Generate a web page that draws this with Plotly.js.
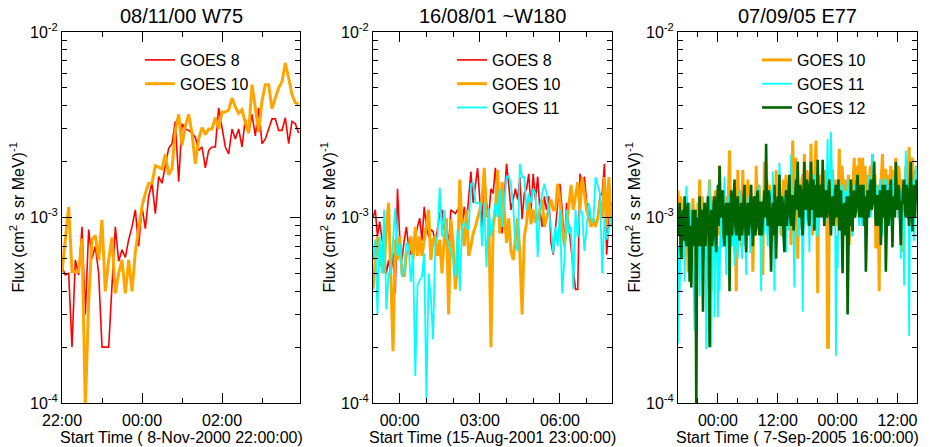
<!DOCTYPE html>
<html>
<head>
<meta charset="utf-8">
<script src="https://cdn.plot.ly/plotly-3.0.1.min.js"></script>
<style>
  html, body { margin: 0; padding: 0; background: #ffffff; }
  #chart { width: 930px; height: 447px; }
</style>
</head>
<body>
<div id="chart"></div>
<script>
// ---------------- DATA ----------------
// Panel 1: 08/11/00 W75, 5-minute cadence from 8-Nov-2000 22:00
const p1Start = [2000, 11, 8, 22, 0];
const p1StepMin = 5;
const p1_goes8 = [
  5.4e-4, 4.9e-4, 5.0e-4, 2.0e-4, 5.9e-4, 4.9e-4, 8.9e-4, 3.0e-4, 8.6e-4, 6.0e-4,
  7.0e-4, 5.0e-4, 2.0e-4, 2.0e-4, 2.0e-4, 4.3e-4, 8.9e-4, 5.8e-4, 6.7e-4, 6.1e-4,
  7.6e-4, 8.9e-4, 1.1e-3, 7.0e-4, 1.14e-3, 8.7e-4, 1.3e-3, 1.53e-3, 1.05e-3, 1.66e-3,
  1.53e-3, 1.9e-3, 2.36e-3, 2.5e-3, 3.3e-3, 1.56e-3, 3.2e-3, 3.0e-3, 2.95e-3, 2.85e-3,
  2.7e-3, 2.3e-3, 2.4e-3, 1.85e-3, 2.3e-3, 2.4e-3, 2.4e-3, 3.9e-3, 3.0e-3, 2.4e-3,
  2.2e-3, 3.0e-3, 2.65e-3, 3.0e-3, 2.4e-3, 3.4e-3, 2.85e-3, 3.6e-3, 2.75e-3, 3.9e-3,
  2.5e-3, 2.65e-3, 3.0e-3, 3.4e-3, 3.4e-3, 2.95e-3, 2.95e-3, 3.45e-3, 2.5e-3, 3.3e-3,
  3.2e-3, 2.85e-3
];
const p1_goes10 = [
  5.1e-4, 7.6e-4, 1.14e-3, 5.1e-4, 5.1e-4, 5.1e-4, 7.7e-4, 9.5e-5, 3.5e-4, 7.6e-4,
  8.0e-4, 5.9e-4, 9.7e-4, 4.0e-4, 5.9e-4, 7.8e-4, 3.9e-4, 5.0e-4, 5.9e-4, 3.9e-4,
  5.9e-4, 4.0e-4, 6.5e-4, 8.5e-4, 1.15e-3, 1.35e-3, 1.53e-3, 1.53e-3, 1.9e-3, 1.87e-3,
  1.83e-3, 2.2e-3, 1.7e-3, 1.83e-3, 2.95e-3, 3.6e-3, 2.45e-3, 3.1e-3, 3.6e-3, 2.85e-3,
  1.95e-3, 2.65e-3, 3.05e-3, 2.8e-3, 3.0e-3, 3.0e-3, 3.45e-3, 3.0e-3, 3.7e-3, 3.7e-3,
  3.8e-3, 4.4e-3, 3.95e-3, 3.65e-3, 3.8e-3, 3.25e-3, 2.85e-3, 5.2e-3, 3.8e-3, 2.9e-3,
  4.25e-3, 5.2e-3, 5.2e-3, 3.85e-3, 4.4e-3, 5.0e-3, 5.4e-3, 6.8e-3, 5.65e-3, 4.6e-3,
  4.15e-3, 4.1e-3
];

// Panel 2: 16/08/01 ~W180, 5-minute cadence from 15-Aug-2001 23:00
const p2Start = [2001, 8, 15, 23, 0];
const p2StepMin = 5;
const p2_goes8 = [
  1.0e-3, 1.1e-3, 7.9e-4, 9.5e-4, 7.7e-4, 6.6e-4, 5.0e-4, 5.9e-4, 4.9e-4, 6.4e-4,
  3.9e-4, 1.43e-3, 7.9e-4, 5.9e-4, 7.5e-4, 8.9e-4, 7.0e-4, 6.3e-4, 7.3e-4, 7.9e-4,
  8.9e-4, 9.9e-4, 7.5e-4, 1.14e-3, 8.9e-4, 7.9e-4, 8.6e-4, 8.4e-4, 7.3e-4, 8.9e-4,
  1.05e-3, 1.1e-3, 8.6e-4, 9.1e-4, 7.0e-4, 1.1e-3, 1.07e-3, 1.05e-3, 1.1e-3, 1.14e-3,
  8.9e-4, 1.14e-3, 9.3e-4, 1.32e-3, 1.77e-3, 1.2e-3, 1.5e-3, 1.85e-3, 1.25e-3, 8.9e-4,
  1.77e-3, 1.2e-3, 1.0e-3, 1.43e-3, 1.35e-3, 1.85e-3, 1.35e-3, 9.8e-4, 8.2e-4, 1.35e-3,
  1.95e-3, 1.5e-3, 1.1e-3, 1.25e-3, 1.43e-3, 1.25e-3, 1.65e-3, 9.8e-4, 1.35e-3, 1.43e-3,
  1.72e-3, 1.1e-3, 1.72e-3, 1.25e-3, 1.66e-3, 1.1e-3, 8.9e-4, 1.3e-3, 1.1e-3, 1.3e-3,
  7.3e-4, 6.3e-4, 8.9e-4, 1.2e-3, 1.52e-3, 1.1e-3, 7.0e-4, 1.2e-3, 8.9e-4, 7.0e-4,
  5.2e-4, 4.1e-4, 4.1e-4, 1.72e-3, 1.52e-3, 1.66e-3, 1.2e-3, 1.1e-3, 8.9e-4, 9.9e-4,
  8.9e-4, 1.0e-3, 1.3e-3, 1.35e-3, 1.95e-3, 6.3e-4, 9.8e-4, 1.2e-3
];
const p2_goes10 = [
  4.1e-4, 5.6e-4, 7.9e-4, 5.4e-4, 7.0e-4, 5.0e-4, 8.9e-4, 1.2e-3, 5.2e-4, 1.9e-4,
  7.6e-4, 5.9e-4, 7.9e-4, 5.0e-4, 4.8e-4, 6.4e-4, 6.6e-4, 7.9e-4, 5.9e-4, 8.9e-4,
  6.2e-4, 7.9e-4, 6.2e-4, 7.6e-4, 8.9e-4, 1.1e-3, 5.9e-4, 7.6e-4, 7.9e-4, 6.2e-4,
  7.6e-4, 5.0e-4, 7.6e-4, 9.9e-4, 3.0e-4, 9.8e-4, 7.3e-4, 4.1e-4, 5.4e-4, 1.6e-3,
  8.9e-4, 7.0e-4, 1.1e-3, 6.2e-4, 7.0e-4, 8.2e-4, 8.9e-4, 9.8e-4, 1.1e-3, 1.25e-3,
  1.85e-3, 1.0e-3, 1.1e-3, 2.0e-4, 8.9e-4, 1.1e-3, 1.8e-3, 8.2e-4, 1.55e-3, 1.1e-3,
  7.3e-4, 9.9e-4, 6.6e-4, 5.9e-4, 7.6e-4, 9.9e-4, 6.4e-4, 3.0e-4, 7.9e-4, 9.4e-4,
  1.25e-3, 9.2e-4, 1.1e-3, 9.4e-4, 9.8e-4, 1.1e-3, 1.25e-3, 8.9e-4, 1.0e-3, 1.1e-3,
  1.25e-3, 1.1e-3, 1.1e-3, 1.52e-3, 1.25e-3, 8.9e-4, 7.0e-4, 8.9e-4, 1.14e-3, 1.5e-3,
  1.1e-3, 1.35e-3, 1.55e-3, 1.1e-3, 1.65e-3, 1.35e-3, 1.1e-3, 1.0e-3, 8.9e-4, 9.9e-4,
  8.9e-4, 9.9e-4, 1.23e-3, 9.9e-4, 1.65e-3, 8.9e-4, 1.65e-3, 8.9e-4
];
const p2_goes11 = [
  5.9e-4, 7.6e-4, 3.0e-4, 7.9e-4, 5.0e-4, 1.1e-3, 3.2e-4, 5.0e-4, 5.0e-4, 7.3e-4,
  1.12e-3, 6.2e-4, 7.3e-4, 4.8e-4, 5.2e-4, 7.3e-4, 7.0e-4, 4.5e-4, 6.4e-4, 1.4e-4,
  4.3e-4, 4.6e-4, 4.8e-4, 6.4e-4, 1.04e-4, 5.0e-4, 3.7e-4, 2.2e-4, 7.3e-4, 7.9e-4,
  1.45e-3, 7.9e-4, 1.1e-3, 7.9e-4, 7.3e-4, 6.6e-4, 5.9e-4, 4.8e-4, 8.6e-4, 4.0e-4,
  8.9e-4, 9.4e-4, 8.9e-4, 8.6e-4, 1.5e-3, 1.55e-3, 1.2e-3, 1.2e-3, 1.2e-3, 7.0e-4,
  1.2e-3, 5.4e-4, 1.12e-3, 7.9e-4, 1.0e-3, 1.2e-3, 1.0e-3, 1.43e-3, 8.9e-4, 1.2e-3,
  1.65e-3, 1.68e-3, 1.5e-3, 1.14e-3, 7.3e-4, 6.6e-4, 1.95e-3, 1.65e-3, 1.65e-3, 1.1e-3,
  1.35e-3, 1.2e-3, 1.43e-3, 1.35e-3, 6.1e-4, 1.1e-3, 1.35e-3, 1.52e-3, 1.35e-3, 1.06e-3,
  8.9e-4, 6.4e-4, 8.9e-4, 7.0e-4, 1.1e-3, 3.9e-4, 5.9e-4, 1.1e-3, 8.2e-4, 8.9e-4,
  4.1e-4, 1.1e-3, 7.8e-4, 1.1e-3, 1.06e-3, 6.6e-4, 8.9e-4, 1.2e-3, 9.9e-4, 9.4e-4,
  1.65e-3, 1.5e-3, 1.35e-3, 5.0e-4, 9.8e-4, 7.6e-4, 8.9e-4, 1.0e-3
];

// Panel 3: 07/09/05 E77, 10-minute cadence from 7-Sep-2005 16:00
const p3Start = [2005, 9, 7, 16, 0];
const p3StepMin = 10;
const p3_goes10 = [
  1.4e-3,9e-4, 8.5e-4,1.3e-3, 1.2e-3,7e-4, 6e-4,1.1e-3, 1e-3,7.5e-4, 1.3e-3,9e-4, 5.1e-4,1.2e-3, 9e-4,6.5e-4, 1.1e-3,8e-4, 1.27e-3,9.5e-4,
  7e-4,1.1e-3, 9.5e-4,7e-4, 1.2e-3,8.5e-4, 1.6e-3,1e-3, 8e-4,1.3e-3, 1.1e-3,7e-4, 6.5e-4,1e-3, 1.2e-3,8e-4, 9e-4,1.3e-3, 1.6e-3,9e-4,
  4e-4,1.1e-3, 1.3e-3,8e-4, 1e-3,1.4e-3, 7.5e-4,1.1e-3, 1.4e-3,8e-4, 1.9e-3,1.1e-3, 9e-4,1.4e-3, 1.2e-3,8e-4, 7e-4,1.1e-3, 1.3e-3,9e-4,
  1e-3,1.5e-3, 2.3e-3,1.2e-3, 8.5e-4,1.3e-3, 1.2e-3,8e-4, 6.5e-4,1.1e-3, 4e-4,1e-3, 1.8e-3,1.2e-3, 1e-3,1.4e-3, 7e-4,1.2e-3, 1.8e-3,1.1e-3,
  1.1e-3,1.5e-3, 8e-4,1.2e-3, 1.6e-3,9e-4, 1.2e-3,1.5e-3, 9e-4,1.3e-3, 5.1e-4,1e-3, 1.3e-3,8e-4, 1.9e-3,1.2e-3, 1e-3,1.5e-3, 1.4e-3,9e-4,
  8e-4,1.2e-3, 4.9e-4,1.1e-3, 2e-3,1.3e-3, 1.2e-3,1.6e-3, 9e-4,1.2e-3, 1.5e-3,1e-3, 1.1e-3,1.4e-3, 7.5e-4,1.1e-3, 1.3e-3,9e-4, 1.8e-3,1.2e-3,
  1e-3,1.5e-3, 1.4e-3,1e-3, 8e-4,1.3e-3, 1.2e-3,1.6e-3, 1e-3,1.4e-3, 1.7e-3,1.1e-3, 9e-4,1.5e-3, 1.3e-3,1e-3, 7.1e-4,1.4e-3, 2.6e-3,1.6e-3,
  1.5e-3,1.2e-3, 2.1e-3,1.3e-3, 6e-4,1.2e-3, 1.5e-3,1e-3, 1.1e-3,1.6e-3, 1.7e-3,1.2e-3, 2.2e-3,1.4e-3, 1.2e-3,1.8e-3, 1.6e-3,1.1e-3, 1e-3,1.5e-3,
  2.5e-3,1.4e-3, 8e-4,1.2e-3, 1.5e-3,1.9e-3, 2.6e-3,1.3e-3, 3.9e-4,1.1e-3, 1.3e-3,1.7e-3, 1e-3,1.4e-3, 1.6e-3,1.1e-3, 1.2e-3,1.8e-3, 1.5e-3,1e-3,
  2e-4,2e-4, 1.3e-3,1e-3, 1.3e-3,1.6e-3, 1.8e-3,1.2e-3, 1.1e-3,1.6e-3, 1.5e-3,1.1e-3, 9e-4,1.4e-3, 2.35e-3,1.5e-3, 1.3e-3,1.9e-3, 1.7e-3,1.2e-3,
  1e-3,1.6e-3, 1.4e-3,1.1e-3, 1.2e-3,1.7e-3, 7.1e-4,1.3e-3, 1.6e-3,1.2e-3, 1.1e-3,1.7e-3, 2.1e-3,1.4e-3, 1.3e-3,1.9e-3, 1.8e-3,1.2e-3, 2.1e-3,1.5e-3,
  1.2e-3,1.8e-3, 2.1e-3,1.4e-3, 1.5e-3,1.9e-3, 1e-3,1.6e-3, 1.7e-3,1.2e-3, 1.3e-3,1.8e-3, 1.9e-3,1.4e-3, 2.2e-3,1.6e-3, 1.2e-3,1.7e-3, 6.8e-4,1.3e-3,
  1.5e-3,1e-3, 4e-4,1.2e-3, 1.6e-3,1.9e-3, 2.2e-3,1.4e-3, 1.3e-3,1.8e-3, 1.8e-3,1.3e-3, 1.1e-3,1.7e-3, 1.6e-3,1.2e-3, 1.9e-3,1.4e-3, 1.2e-3,1.8e-3,
  1.5e-3,1.2e-3, 2.1e-3,1.5e-3, 1.3e-3,1.9e-3, 1.8e-3,1.2e-3, 1e-3,1.6e-3, 6.5e-4,1.3e-3, 1.5e-3,1.1e-3, 1.9e-3,1.4e-3, 1.2e-3,1.8e-3, 2.4e-3,1.5e-3,
  1.6e-3,1.2e-3, 2.1e-3,1.4e-3, 1.2e-3,1.8e-3, 1.5e-3,1.9e-3
];
const p3_goes11 = [
  2.1e-4,7e-4, 4e-4,9e-4, 1.1e-3,6e-4, 8e-4,1.1e-3, 4.5e-4,9e-4, 1.48e-3,8e-4, 9e-4,6e-4, 1.2e-3,8e-4, 7e-4,1e-3, 6e-4,5e-4,
  2.45e-4,7e-4, 1e-3,6e-4, 7.5e-4,1e-3, 3.75e-4,8e-4, 1.2e-3,6.5e-4, 9e-4,1.1e-3, 6e-4,9e-4, 1.95e-4,6e-4, 1.1e-3,7e-4, 1.6e-3,9e-4,
  2e-4,7e-4, 8e-4,1.1e-3, 2.9e-4,8e-4, 1e-3,6e-4, 2.9e-4,7e-4, 4e-4,9e-4, 1.2e-3,7e-4, 7e-4,1.1e-3, 1.66e-3,8e-4, 4.9e-4,9e-4,
  1e-3,1.3e-3, 6.5e-4,1e-3, 1.3e-3,7e-4, 8e-4,1.1e-3, 5.5e-4,9e-4, 1.1e-3,7e-4, 6e-4,1e-3, 1.4e-3,8e-4, 9e-4,6e-4, 1.2e-3,8e-4,
  7e-4,1.1e-3, 4.9e-4,9e-4, 1.3e-3,8e-4, 1e-3,6.5e-4, 6.5e-4,1.1e-3, 1.2e-3,8e-4, 8e-4,1.2e-3, 1.4e-3,9e-4, 1e-3,1.3e-3, 1.5e-3,8e-4,
  4e-4,1e-3, 1.2e-3,8e-4, 9e-4,1.3e-3, 1.3e-3,9e-4, 7e-4,1.2e-3, 1.1e-3,7.5e-4, 1.4e-3,9e-4, 1.77e-3,1.1e-3, 4e-4,9e-4, 1.2e-3,7e-4,
  9e-4,1.2e-3, 1.97e-3,1.2e-3, 1.1e-3,8e-4, 8e-4,1.2e-3, 1.3e-3,9e-4, 6.5e-4,1.1e-3, 1.5e-3,8.5e-4, 1e-3,1.4e-3, 2.2e-3,1.1e-3, 1.3e-3,8e-4,
  4.2e-4,1e-3, 1.8e-3,1.1e-3, 1.2e-3,8e-4, 8e-4,1.3e-3, 1.4e-3,9e-4, 3.1e-4,8e-4, 1.1e-3,1.4e-3, 1.6e-3,1e-3, 9e-4,1.3e-3, 6.5e-4,1.1e-3,
  1.3e-3,9e-4, 1e-3,1.4e-3, 1.7e-3,1e-3, 1.2e-3,8e-4, 8e-4,1.3e-3, 1.5e-3,1e-3, 1.1e-3,1.5e-3, 1.8e-3,1.1e-3, 1.3e-3,9e-4, 1e-3,1.6e-3,
  2.65e-3,1.2e-3, 1.4e-3,1.8e-3, 2.9e-3,1.5e-3, 1.2e-3,1.6e-3, 9e-4,1.1e-3, 1.8e-4,8e-4, 5.3e-4,1.2e-3, 1.6e-3,1e-3, 1.1e-3,1.5e-3, 1.4e-3,9e-4,
  9e-4,1.4e-3, 1.3e-3,1e-3, 1.6e-3,1.1e-3, 1e-3,1.5e-3, 1.3e-3,8e-4, 8e-4,1.2e-3, 1.5e-3,1e-3, 1.1e-3,1.6e-3, 1.7e-3,1.1e-3, 9e-4,1.3e-3,
  1.3e-3,9e-4, 1e-3,1.4e-3, 1.5e-3,1.1e-3, 8.4e-4,1.3e-3, 1.2e-3,1.7e-3, 1.6e-3,1.1e-3, 1e-3,1.5e-3, 2.2e-3,1.2e-3, 1.3e-3,1.7e-3, 9e-4,1.2e-3,
  1.5e-3,1e-3, 1.1e-3,1.6e-3, 1.4e-3,1e-3, 8e-4,1.3e-3, 1.2e-3,1.6e-3, 1.6e-3,1.1e-3, 1e-3,1.5e-3, 1.4e-3,1e-3, 9e-4,1.2e-3, 1.3e-3,1.6e-3,
  1.7e-3,1.2e-3, 1.1e-3,1.5e-3, 1.4e-3,1e-3, 1e-3,1.4e-3, 6e-4,1.1e-3, 1.5e-3,9e-4, 4.3e-4,1.2e-3, 2.3e-3,1.4e-3, 1.2e-3,1.5e-3, 2.3e-4,9e-4,
  9e-4,1.3e-3, 1.6e-3,1.1e-3, 7.5e-4,1.4e-3, 1.9e-3,1.5e-3
];
const p3_goes12 = [
  8e-4,1e-3, 1.2e-3,7e-4, 6e-4,1e-3, 1.1e-3,7.5e-4, 1.3e-3,8e-4, 7e-4,1.1e-3, 1.2e-3,8e-4, 4.5e-4,9e-4, 4.2e-4,9e-4, 1.1e-3,7e-4,
  8e-4,1.1e-3, 9e-5,9e-4, 1e-3,7e-4, 1.3e-3,8e-4, 7e-4,1.1e-3, 3.1e-4,9e-4, 1.2e-3,7e-4, 9e-4,1.2e-3, 1.3e-3,8e-4, 2e-4,9e-4,
  1.1e-3,7e-4, 8e-4,1.2e-3, 1.3e-3,8e-4, 6.5e-4,1.1e-3, 1.5e-3,9e-4, 1.9e-3,1.1e-3, 1e-3,1.3e-3, 1.4e-3,8e-4, 7e-4,1.1e-3, 1.2e-3,8e-4,
  9e-4,1.2e-3, 4e-4,1e-3, 1.4e-3,8e-4, 1e-3,1.3e-3, 1.6e-3,9e-4, 8e-4,1.2e-3, 1.3e-3,8.5e-4, 7.5e-4,1.1e-3, 1.2e-3,8e-4, 9e-4,1.3e-3,
  1.5e-3,9e-4, 6.5e-4,1.1e-3, 1.2e-3,8e-4, 1e-3,1.4e-3, 1.5e-3,9e-4, 7e-4,1.2e-3, 1.3e-3,8e-4, 9e-4,1.3e-3, 1.4e-3,9e-4, 8e-4,1.2e-3,
  1.2e-3,8e-4, 1e-3,1.3e-3, 1.4e-3,1e-3, 2.5e-3,1.1e-3, 9e-4,1.4e-3, 1.3e-3,8e-4, 5.1e-4,1e-3, 1.2e-3,8e-4, 1.5e-3,1e-3, 6e-4,1.1e-3,
  1.3e-3,9e-4, 1.7e-3,1.1e-3, 9e-4,1.3e-3, 1.2e-3,8e-4, 6.5e-4,1.1e-3, 1.4e-3,9e-4, 1.1e-3,1.5e-3, 1.7e-3,1e-3, 9e-4,1.3e-3, 1.3e-3,8.5e-4,
  1e-3,1.3e-3, 1.6e-3,1.1e-3, 2e-3,1.2e-3, 1e-3,1.5e-3, 1.4e-3,9e-4, 8e-4,1.3e-3, 2e-3,1.2e-3, 1.1e-3,1.6e-3, 1.5e-3,1e-3, 9e-4,1.4e-3,
  2e-3,1.1e-3, 1.2e-3,1.6e-3, 8.5e-4,1.2e-3, 1.5e-3,1e-3, 2.05e-3,1.3e-3, 1e-3,1.5e-3, 1.3e-3,1e-3, 2.05e-3,1.2e-3, 9e-4,1.3e-3, 1.4e-3,1e-3,
  1.1e-3,1.4e-3, 1.6e-3,1e-3, 8e-4,1.2e-3, 1.3e-3,9e-4, 1e-3,1.4e-3, 1.5e-3,1e-3, 1.2e-3,1.6e-3, 8.5e-4,1.2e-3, 1.4e-3,9e-4, 5e-4,1.1e-3,
  1.2e-3,8e-4, 1e-3,1.3e-3, 3e-4,1e-3, 1.3e-3,9e-4, 1.6e-3,1.1e-3, 8.4e-4,1.3e-3, 1.4e-3,1e-3, 1.1e-3,1.5e-3, 1.7e-3,1.2e-3, 1e-3,1.4e-3,
  1.5e-3,1e-3, 1.2e-3,1.5e-3, 9e-4,1.3e-3, 5.1e-4,1.1e-3, 1.4e-3,1e-3, 1.1e-3,1.5e-3, 1.6e-3,1.1e-3, 1.2e-3,1.5e-3, 2e-3,1.2e-3, 9e-4,1.3e-3,
  1.3e-3,9e-4, 1.1e-3,1.4e-3, 7.1e-4,1.2e-3, 1.5e-3,1e-3, 1.2e-3,1.5e-3, 5.1e-4,1.1e-3, 1.4e-3,9e-4, 1e-3,1.4e-3, 1.6e-3,1.1e-3, 6.9e-4,1.2e-3,
  1.3e-3,1e-3, 2e-3,1.3e-3, 1.1e-3,1.5e-3, 1.4e-3,1e-3, 7.1e-4,1.2e-3, 1.2e-3,1.5e-3, 1.6e-3,1.1e-3, 1e-3,1.5e-3, 1.4e-3,1.1e-3, 9e-4,1.5e-3,
  2e-3,1.2e-3, 8.4e-4,1.3e-3, 1.5e-3,1e-3, 1.2e-3,1.6e-3
];

// Labels
const panelTitles = ["08/11/00 W75", "16/08/01 ~W180", "07/09/05 E77"];
const xTitles = ["Start Time ( 8-Nov-2000 22:00:00)", "Start Time (15-Aug-2001 23:00:00)", "Start Time ( 7-Sep-2005 16:00:00)"];
const yTitle = "Flux (cm<sup>2</sup> s sr MeV)<sup>-1</sup>";
const yTickVals = [1e-4, 1e-3, 1e-2];
const yTickText = ["10<sup>-4</sup>", "10<sup>-3</sup>", "10<sup>-2</sup>"];
const yMinorVals = [2e-4, 3e-4, 4e-4, 5e-4, 6e-4, 7e-4, 8e-4, 9e-4, 2e-3, 3e-3, 4e-3, 5e-3, 6e-3, 7e-3, 8e-3, 9e-3];

// ---------------- BUILD ----------------
function times(start, stepMin, n) {
  const t0 = Date.UTC(start[0], start[1] - 1, start[2], start[3], start[4]);
  const out = [];
  for (let k = 0; k < n; k++) out.push(t0 + k * stepMin * 60000);
  return out;
}

const RED = "#ff0000", ORANGE = "#ffa500", CYAN = "#00ffff", GREEN = "#006400";
const FONT = "Liberation Sans, Arial, Helvetica, sans-serif";

function tr(x, y, name, color, width, xa, ya, leg) {
  return { x: x, y: y, name: name, type: "scatter", mode: "lines",
           line: { color: color, width: width }, xaxis: xa, yaxis: ya, legend: leg };
}

const t1 = times(p1Start, p1StepMin, p1_goes8.length);
const t2 = times(p2Start, p2StepMin, p2_goes8.length);
const t3 = times(p3Start, p3StepMin, p3_goes10.length);

const traces = [
  tr(t1, p1_goes8, "GOES 8", RED, 1.6, "x", "y", "legend"),
  tr(t1, p1_goes10, "GOES 10", ORANGE, 3, "x", "y", "legend"),
  tr(t2, p2_goes8, "GOES 8", RED, 1.6, "x2", "y2", "legend2"),
  tr(t2, p2_goes10, "GOES 10", ORANGE, 3, "x2", "y2", "legend2"),
  tr(t2, p2_goes11, "GOES 11", CYAN, 1.8, "x2", "y2", "legend2"),
  tr(t3, p3_goes10, "GOES 10", ORANGE, 3, "x3", "y3", "legend3"),
  tr(t3, p3_goes11, "GOES 11", CYAN, 1.8, "x3", "y3", "legend3"),
  tr(t3, p3_goes12, "GOES 12", GREEN, 2.6, "x3", "y3", "legend3")
];

const W = 930;
const domains = [[62 / W, 300 / W], [373 / W, 612 / W], [678 / W, 917 / W]];

function xaxis(i, range, dtick, tick0, minorDtick) {
  return {
    domain: domains[i], anchor: i === 0 ? "y" : "y" + (i + 1), type: "date",
    range: range, tickformat: "%H:%M", tickmode: "linear", dtick: dtick, tick0: tick0,
    ticks: "inside", ticklen: 10, tickwidth: 1, tickcolor: "#000", ticklabelstandoff: 3,
    showline: true, linecolor: "#000", linewidth: 1, mirror: "allticks",
    showgrid: false, zeroline: false,
    tickfont: { family: FONT, size: 16, color: "#000" },
    minor: { dtick: minorDtick, tick0: tick0, ticks: "inside", ticklen: 5, tickwidth: 1, tickcolor: "#000", showgrid: false }
  };
}
function yaxis(i) {
  return {
    domain: [0, 1], anchor: i === 0 ? "x" : "x" + (i + 1), type: "log", range: [-4, -2],
    tickmode: "array", tickvals: yTickVals, ticktext: yTickText,
    ticks: "inside", ticklen: 10, tickwidth: 1, tickcolor: "#000",
    showline: true, linecolor: "#000", linewidth: 1, mirror: "allticks",
    showgrid: false, zeroline: false,
    tickfont: { family: FONT, size: 16, color: "#000" },
    minor: { tickmode: "array", tickvals: yMinorVals, ticks: "inside", ticklen: 5, tickwidth: 1, tickcolor: "#000", showgrid: false }
  };
}

const H_PLOT_TOP = 32, H_PLOT_BOT = 403, PH = H_PLOT_BOT - H_PLOT_TOP;
function py(pix) { return (H_PLOT_BOT - pix) / PH; }

const annotations = [];
for (let i = 0; i < 3; i++) {
  const cx = (domains[i][0] + domains[i][1]) / 2;
  annotations.push({ text: panelTitles[i], xref: "paper", yref: "paper", x: cx, y: py(16),
    xanchor: "center", yanchor: "middle", showarrow: false, font: { family: FONT, size: 20, color: "#000" } });
  annotations.push({ text: xTitles[i], xref: "paper", yref: "paper", x: cx, y: py(437),
    xanchor: "center", yanchor: "middle", showarrow: false, font: { family: FONT, size: 16, color: "#000" } });
  annotations.push({ text: yTitle, xref: "paper", yref: "paper", x: domains[i][0] - 45 / W, y: 0.5,
    xanchor: "center", yanchor: "middle", textangle: -90, showarrow: false, font: { family: FONT, size: 16, color: "#000" } });
}

function legend(xpix) {
  return { x: xpix / W, xanchor: "left", y: py(43), yanchor: "top", bgcolor: "rgba(0,0,0,0)",
           borderwidth: 0, font: { family: FONT, size: 16, color: "#000" }, tracegroupgap: 0 };
}

const layout = {
  width: 930, height: 447,
  margin: { l: 0, r: 0, t: H_PLOT_TOP, b: 447 - H_PLOT_BOT, pad: 0 },
  paper_bgcolor: "#ffffff", plot_bgcolor: "#ffffff",
  font: { family: FONT, size: 16, color: "#000" },
  showlegend: true,
  xaxis: xaxis(0, ["2000-11-08 22:00", "2000-11-09 03:57"], 7200000, "2000-11-08 22:00", 3600000),
  xaxis2: xaxis(1, ["2001-08-15 23:00", "2001-08-16 07:57"], 10800000, "2001-08-16 00:00", 3600000),
  xaxis3: xaxis(2, ["2005-09-07 16:00", "2005-09-09 15:55"], 43200000, "2005-09-08 00:00", 14400000),
  yaxis: yaxis(0), yaxis2: yaxis(1), yaxis3: yaxis(2),
  legend: legend(140), legend2: legend(452), legend3: legend(757),
  annotations: annotations
};

Plotly.newPlot("chart", traces, layout, { staticPlot: true, displayModeBar: false });
</script>
</body>
</html>
